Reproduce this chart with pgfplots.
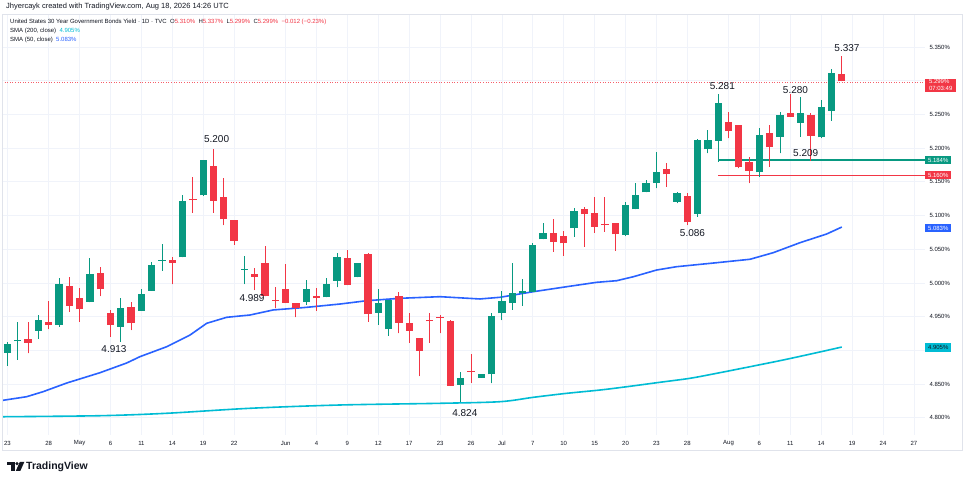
\documentclass[border=0pt]{standalone}
\usepackage{fontspec}
\setmainfont{Liberation Sans}
\usepackage{pgfplots}
\usepackage{pgfplotstable}
\pgfplotsset{compat=1.18}
\definecolor{upc}{HTML}{089981}
\definecolor{dnc}{HTML}{F23645}
\definecolor{smab}{HTML}{2962FF}
\definecolor{smac}{HTML}{00BCD4}
\definecolor{gridc}{HTML}{F0F3FA}
\definecolor{tvtext}{HTML}{131722}
\definecolor{framec}{HTML}{E0E3EB}

\pgfplotstableread{
i O H L C
0 4.8966 4.913 4.877 4.9095
1 4.9138 4.9426 4.886 4.9148
3 4.9293 4.9525 4.917 4.945
5 4.9382 5.007 4.935 4.9985
8 4.9723 5.0366 4.9714 5.0129
11 4.935 4.9773 4.913 4.9624
13 4.9589 4.9906 4.9589 4.9837
14 4.9886 5.0316 4.9886 5.0267
15 5.0331 5.0579 5.0183 5.0341
17 5.0381 5.1306 5.0381 5.1217
19 5.130 5.183 5.1297 5.1825
23 5.0198 5.040 4.9985 5.0208
29 4.9723 5.0045 4.9674 4.9911
31 4.9787 5.007 4.9787 4.9985
32 5.0034 5.045 4.9936 5.039
34 5.0085 5.0302 5.0085 5.0302
36 4.956 4.9906 4.9377 4.9708
37 4.9313 4.9755 4.9214 4.9748
44 4.8487 4.8684 4.8239 4.8586
46 4.8595 4.865 4.8595 4.865
47 4.8645 4.956 4.8512 4.951
48 4.955 4.988 4.945 4.9733
49 4.970 5.029 4.96 4.9847
50 4.9858 5.0055 4.9663 4.9873
51 4.987 5.0589 4.987 5.0564
52 5.0648 5.0886 5.0648 5.0737
55 5.0811 5.1108 5.0687 5.1068
60 5.0712 5.1207 5.0697 5.1157
61 5.1093 5.1488 5.1093 5.1306
62 5.1345 5.1528 5.1345 5.148
63 5.148 5.1939 5.1405 5.1642
65 5.1207 5.1355 5.1182 5.1331
67 5.1024 5.213 5.0984 5.2122
68 5.1983 5.227 5.1924 5.2122
69 5.2112 5.281 5.180 5.2666
73 5.1642 5.2295 5.1577 5.2196
75 5.2171 5.2542 5.1924 5.2493
77 5.2379 5.2764 5.2171 5.2518
79 5.2161 5.2715 5.2147 5.2607
80 5.2557 5.317 5.2408 5.3111
}\upT

\pgfplotstableread{
i O H L C
2 4.9165 4.9426 4.8957 4.9115
4 4.9421 4.9733 4.9313 4.9382
6 4.9955 5.0086 4.9575 4.9659
7 4.9773 4.992 4.9426 4.961
9 5.0144 5.0242 4.9807 4.9906
10 4.955 4.96 4.9204 4.9377
12 4.9649 4.9723 4.930 4.940
16 5.0341 5.039 4.998 5.0302
18 5.1241 5.1578 5.1043 5.1227
20 5.174 5.1984 5.1043 5.1222
21 5.1276 5.1553 5.086 5.0945
22 5.0935 5.0935 5.0564 5.0628
24 5.0134 5.0218 4.9896 5.0094
25 5.0292 5.0549 4.980 4.9807
26 4.9748 4.9945 4.9624 4.9733
27 4.9906 5.0277 4.970 4.9708
28 4.970 4.970 4.949 4.9634
30 4.9807 4.992 4.959 4.9773
33 5.0375 5.049 4.997 4.997
35 5.043 5.0445 4.9426 4.954
38 4.9807 4.987 4.9254 4.941
39 4.940 4.955 4.9114 4.9293
40 4.918 4.918 4.862 4.8996
41 4.9445 4.955 4.9114 4.943
42 4.9495 4.9525 4.9254 4.948
43 4.944 4.9445 4.8477 4.8477
45 4.8695 4.8947 4.852 4.868
53 5.0737 5.095 5.0465 5.0613
54 5.070 5.0776 5.0405 5.0589
56 5.1093 5.1132 5.0539 5.1019
57 5.1043 5.128 5.0746 5.0835
58 5.0875 5.128 5.0761 5.086
59 5.0886 5.0886 5.0475 5.0722
64 5.1687 5.1785 5.1429 5.1613
66 5.1295 5.133 5.086 5.090
70 5.2389 5.2542 5.2147 5.2255
71 5.2344 5.2349 5.170 5.1716
72 5.179 5.1874 5.148 5.1666
74 5.2221 5.2344 5.1726 5.2013
76 5.2518 5.280 5.2468 5.2468
78 5.2493 5.2518 5.1815 5.2181
81 5.310 5.337 5.299 5.299
}\dnT

\pgfplotsset{
  candle/.style={only marks, mark=*, mark size=0pt, mark options={draw=none, fill=none},
    error bars/.cd, y dir=plus, y explicit, error mark=none},
}

\begin{document}
\begin{tikzpicture}
\useasboundingbox (0,0) rectangle (964pt,482pt);
\fill[white] (0,0) rectangle (964pt,482pt);
\begin{axis}[
  at={(2pt,47pt)}, anchor=south west,
  scale only axis, width=923pt, height=421pt,
  xmin=-0.534, xmax=89.078, ymin=4.77448, ymax=5.39911,
  axis line style={draw=none},
  major tick length=0pt,
  grid=major,
  major grid style={gridc, line width=0.8pt},
  xtick={0,4,7,10,13,16,19,22,27,30,33,36,39,42,45,48,51,54,57,60,63,66,70,73,76,79,82,85,88},
  xticklabels={23,28,May,6,11,14,19,22,Jun,4,9,12,17,23,26,Jul,7,10,15,20,23,28,Aug,6,11,14,19,24,27},
  xticklabel style={anchor=center, yshift=-8pt, font=\fontsize{6}{7}\selectfont, text=tvtext},
  ytick={4.80,4.85,4.90,4.95,5.00,5.05,5.10,5.15,5.20,5.25,5.30,5.35},
  yticklabels={4.800\%,4.850\%,,4.950\%,5.000\%,5.050\%,5.100\%,5.150\%,5.200\%,5.250\%,,5.350\%},
  yticklabel pos=right,
  yticklabel style={anchor=west, xshift=1pt, font=\fontsize{6}{7}\selectfont, text=tvtext},
  clip=false,
]
% current price dotted line
\addplot[dnc!80, line width=0.6pt, dotted] coordinates {(-0.534,5.2977) (89.078,5.2977)};
% SMA 200
\addplot[smac, line width=1.6pt, smooth] coordinates {
(-0.5,4.8016) (8.98,4.8031) (15.46,4.8067) (23.54,4.8141) (32.28,4.8190) (41.99,4.8215)
(47.82,4.8239) (51.05,4.8304) (54.29,4.8363) (57.52,4.8412) (60.12,4.8461) (63.35,4.8527)
(66.26,4.8586) (68.85,4.8660) (72.09,4.8758) (75.32,4.8858) (78.56,4.8966) (81,4.9050)};
% SMA 50
\addplot[smab, line width=1.6pt] coordinates {
(-0.5,4.8258) (1.86,4.8313) (3.45,4.8387) (5.75,4.8516) (8.98,4.8669) (11.57,4.8813)
(12.86,4.8907) (15.46,4.9055) (17.72,4.9228) (19.34,4.9402) (21.28,4.9491) (23.54,4.9525)
(25.8,4.9600) (29.05,4.9639) (32.28,4.9688) (34.87,4.9737) (38.11,4.9773) (41.99,4.9797)
(45.87,4.9763) (47.82,4.9788) (51.05,4.9871) (54.29,4.9945) (57.2,5.0010) (59.14,5.0034)
(60.76,5.0093) (63.03,5.0193) (64.97,5.0242) (68.85,5.0301) (72.09,5.0352) (74.35,5.0450)
(76.94,5.0598) (79.53,5.0727) (81,5.0830)};
% horizontal levels
\addplot[upc, line width=1.5pt] coordinates {(69.1,5.1825) (89.078,5.1825)};
\addplot[dnc, line width=1.2pt] coordinates {(69,5.1598) (89.078,5.1598)};
% wicks
\addplot[candle, error bar style={line width=0.9pt, draw=upc}]
  table[x=i, y=L, y error plus expr=\thisrow{H}-\thisrow{L}] {\upT};
\addplot[candle, error bar style={line width=0.9pt, draw=dnc}]
  table[x=i, y=L, y error plus expr=\thisrow{H}-\thisrow{L}] {\dnT};
% bodies
\addplot[candle, error bar style={line width=7.3pt, draw=upc}]
  table[x=i, y=O, y error plus expr={max(\thisrow{C}-\thisrow{O},0.0016)}] {\upT};
\addplot[candle, error bar style={line width=7.3pt, draw=dnc}]
  table[x=i, y=C, y error plus expr={max(\thisrow{O}-\thisrow{C},0.0016)}] {\dnT};
% annotations
\begin{scope}[every node/.style={font=\fontsize{10}{12}\selectfont, text=tvtext}]
\node at (axis cs:20.3,5.2131) {5.200};
\node at (axis cs:10.34,4.9016) {4.913};
\node at (axis cs:23.74,4.9782) {4.989};
\node at (axis cs:44.4,4.8076) {4.824};
\node at (axis cs:66.5,5.0737) {5.086};
\node at (axis cs:69.4,5.2928) {5.281};
\node at (axis cs:76.5,5.2864) {5.280};
\node at (axis cs:77.5,5.1933) {5.209};
\node at (axis cs:81.5,5.3491) {5.337};
\end{scope}
\coordinate (bA) at (axis cs:89.078,5.3037);
\coordinate (bB) at (axis cs:89.078,5.1825);
\coordinate (bC) at (axis cs:89.078,5.1598);
\coordinate (bD) at (axis cs:89.078,5.0816);
\coordinate (bE) at (axis cs:89.078,4.905);
\end{axis}
% badges (drawn over the tick labels)
\begin{scope}[every node/.style={font=\fontsize{6}{7}\selectfont, text=white, inner xsep=2pt, inner ysep=1pt, anchor=west}]
\node[fill=dnc, anchor=north west, align=left, minimum width=31pt] at (bA) {5.299\%\\07:03:49};
\node[fill=upc, minimum width=26pt, minimum height=8.5pt] at (bB) {5.184\%};
\node[fill=dnc, minimum width=26pt, minimum height=8pt] at (bC) {5.160\%};
\node[fill=smab, minimum width=26pt, minimum height=8pt] at (bD) {5.083\%};
\node[fill=smac, text=tvtext, minimum width=26pt, minimum height=9pt] at (bE) {4.905\%};
\end{scope}
% frame
\draw[framec, line width=0.7pt] (2pt,32pt) rectangle (962pt,468pt);
% header
\node[anchor=west, font=\fontsize{7.5}{9}\selectfont, text=tvtext, inner sep=0pt] at (6pt,475pt)
  {Jhyercayk created with TradingView.com, Aug 18, 2026 14:26 UTC};
\begin{scope}[every node/.style={anchor=west, font=\fontsize{6}{7}\selectfont, text=tvtext, inner sep=0pt}]
\node at (10pt,460.5pt) {United States 30 Year Government Bonds Yield · 1D · TVC\ \ O\textcolor{dnc}{5.310\%}\ \ H\textcolor{dnc}{5.337\%}\ \ L\textcolor{dnc}{5.299\%}\ \ C\textcolor{dnc}{5.299\%}\ \ \textcolor{dnc}{−0.012 (−0.23\%)}};
\node at (10pt,451pt) {SMA (200, close)\ \ \textcolor{smac}{4.905\%}};
\node at (10pt,442.5pt) {SMA (50, close)\ \ \textcolor{smab}{5.083\%}};
\end{scope}
% TradingView logo
\fill[tvtext] (7pt,20pt) rectangle (14.5pt,17pt);
\fill[tvtext] (10.5pt,20pt) rectangle (14.5pt,11pt);
\fill[tvtext] (17pt,18.3pt) circle (1.7pt);
\fill[tvtext] (19.8pt,20pt) -- (24.3pt,20pt) -- (20.3pt,11pt) -- (15.8pt,11pt) -- cycle;
\node[anchor=west, font=\bfseries\fontsize{10.5}{12}\selectfont, text=tvtext, inner sep=0pt] at (26pt,15.5pt) {TradingView};
\end{tikzpicture}
\end{document}
